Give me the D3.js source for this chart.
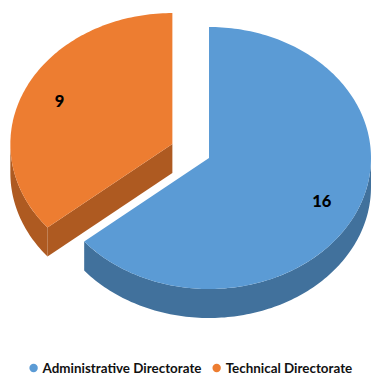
<!DOCTYPE html>
<html>
<head>
<meta charset="utf-8">
<script src="https://cdn.jsdelivr.net/npm/d3@7"></script>
<style>
  html, body { margin: 0; padding: 0; background: #ffffff; }
  svg { display: block; }
</style>
</head>
<body>
<svg id="chart" width="371" height="375"></svg>
<script>
// Staff count by directorate
const categories = ["Administrative Directorate", "Technical Directorate"];
const values = [16, 9];
const topColors = ["#5B9BD5", "#ED7D31"];
const sideColors = ["#41719C", "#AE5A21"];
const explodeBy = [0, 0.25];

const W = 371, H = 375;
const cx = 209, cy = 158;     // pie centre on screen
const rx = 162, ry = 131;     // tilted ellipse radii
const depth = 29;             // thickness of the pie
const labelR = 0.77;

const svg = d3.select("#chart");

const arcs = d3.pie().sort(null).value(d => d)(values).map((a, i) => {
  const mid = (a.startAngle + a.endAngle) / 2;
  return {
    ...a, i, mid,
    dx: rx * explodeBy[i] * Math.sin(mid),
    dy: -ry * explodeBy[i] * Math.cos(mid)
  };
});

// project an angle/radius on the tilted disc (angle 0 = 12 o'clock, clockwise)
const proj = (s, ang, r, z = 0) => [
  cx + s.dx + rx * r * Math.sin(ang),
  cy + s.dy - ry * r * Math.cos(ang) + z
];

const arcPoints = (s, a0, a1, z) => {
  const n = Math.max(2, Math.ceil((a1 - a0) / 0.02));
  return d3.range(n + 1).map(k => proj(s, a0 + (a1 - a0) * k / n, 1, z));
};

const line = d3.line();

function topPath(s) {
  return line([proj(s, 0, 0), ...arcPoints(s, s.startAngle, s.endAngle, 0)]) + "Z";
}

function outerSide(s) {
  const a0 = Math.max(s.startAngle, Math.PI / 2);
  const a1 = Math.min(s.endAngle, 3 * Math.PI / 2);
  if (a1 <= a0) return null;
  const upper = arcPoints(s, a0, a1, 0);
  const lower = arcPoints(s, a0, a1, depth).reverse();
  return line([...upper, ...lower]) + "Z";
}

function radialFace(s, ang) {
  const c0 = proj(s, ang, 0), r0 = proj(s, ang, 1);
  return line([c0, r0, [r0[0], r0[1] + depth], [c0[0], c0[1] + depth]]) + "Z";
}

// back slices first
const order = arcs.slice().sort((a, b) =>
  (a.dy - ry * Math.cos(a.mid)) - (b.dy - ry * Math.cos(b.mid)));

const pieG = svg.append("g");
order.forEach(s => {
  const g = pieG.append("g");
  // a cut face is visible when its outward normal points to the viewer
  if (Math.cos(s.startAngle - Math.PI / 2) < -1e-6)
    g.append("path").attr("d", radialFace(s, s.startAngle)).attr("fill", sideColors[s.i]);
  if (Math.cos(s.endAngle + Math.PI / 2) < -1e-6)
    g.append("path").attr("d", radialFace(s, s.endAngle)).attr("fill", sideColors[s.i]);
  const side = outerSide(s);
  if (side) g.append("path").attr("d", side).attr("fill", sideColors[s.i]);
  g.append("path").attr("d", topPath(s)).attr("fill", topColors[s.i]);
});

// value labels
svg.append("g").selectAll("text").data(arcs).join("text")
  .attr("x", d => proj(d, d.mid, labelR)[0])
  .attr("y", d => proj(d, d.mid, labelR)[1])
  .attr("text-anchor", "middle")
  .attr("dominant-baseline", "central")
  .attr("font-family", "Lato, 'Open Sans', sans-serif")
  .attr("font-weight", 900)
  .attr("font-size", 16.5)
  .attr("fill", "#000")
  .text(d => d.value);

// legend
const legend = svg.append("g").attr("font-family", "Lato, 'Open Sans', sans-serif")
  .attr("font-weight", 700).attr("font-size", 13.4);
const items = legend.selectAll("g").data(categories).join("g");
items.append("circle").attr("r", 4.2).attr("cy", 0).attr("fill", (d, i) => topColors[i]);
items.append("text").attr("x", 9).attr("dominant-baseline", "central").attr("fill", "#111").text(d => d);
const gap = 11;
const widths = items.nodes().map(n => n.getBBox().width);
const total = d3.sum(widths) + gap * (widths.length - 1);
let x0 = 191 - total / 2 + 4;
items.attr("transform", (d, i) => {
  const t = `translate(${x0},368)`;
  x0 += widths[i] + gap;
  return t;
});
</script>
</body>
</html>
